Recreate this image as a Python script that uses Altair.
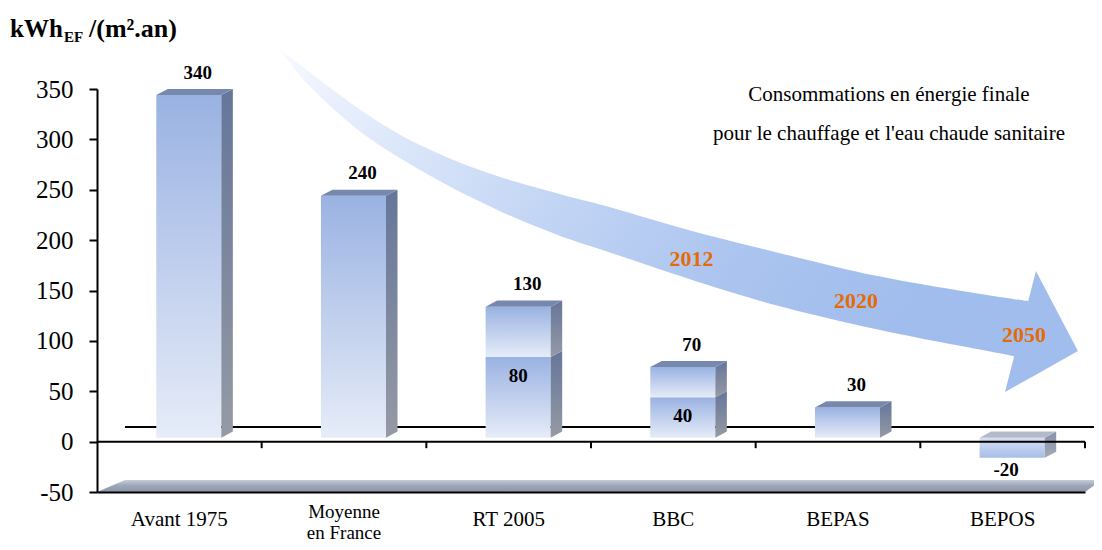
import altair as alt
import pandas as pd

# ---------------- data ----------------
categories = ["Avant 1975", "Moyenne\nen France", "RT 2005", "BBC", "BEPAS", "BEPOS"]
totals = [340, 240, 130, 70, 30, -20]
inner_values = [None, None, 80, 40, None, None]
y_ticks = [-50, 0, 50, 100, 150, 200, 250, 300, 350]

subtitle = "Consommations en énergie finale\npour le chauffage et l'eau chaude sanitaire"
year_labels = ["2012", "2020", "2050"]
year_x = [3.61, 4.61, 5.63]
year_y = [181, 140, 106]

# decorative arrow outline (in chart units: category index / kWh)
arrow_x = [1.111, 1.172, 1.251, 1.457, 1.658, 1.858, 2.065, 2.265, 2.466, 2.672,
           2.872, 3.055, 3.340, 3.741, 4.148, 4.555, 4.955, 5.484, 5.654]
arrow_top = [388.7, 381.7, 371.8, 346.0, 322.2, 302.3, 286.4, 272.5, 261.6, 251.7,
             242.8, 235.8, 221.9, 203.1, 187.2, 170.3, 157.4, 143.5, 139.5]
arrow_bottom = [388.7, 375.8, 358.9, 326.2, 299.4, 279.5, 259.6, 242.8, 226.9, 213.0,
                200.1, 191.2, 175.3, 153.4, 133.6, 117.7, 103.8, 87.9, 81.9]
head_x = [5.514, 5.702, 5.957]
head_top = [49.2, 169.3, 89.9]
head_bottom = [49.2, 66.5, 89.9]

# ---------------- geometry / style ----------------
W, H = 988, 403
BAR_LEFT, BAR_W = 0.36, 0.395
DX, DY = 0.07, 6.0          # 3D depth in chart units
LIFT = 4                    # px lift of bars above the zero line
FLOOR_DX, FLOOR_DY = 0.17, 11.9
BACK_Y = 14.5
TICK_LEN = 6.5
N = len(categories)
Y_MIN, Y_MAX = y_ticks[0], y_ticks[-1]
SERIF = "Liberation Serif, Times New Roman, serif"

front, side, top, labels_out, labels_in = [], [], [], [], []
for i, (cat, tot, inner) in enumerate(zip(categories, totals, inner_values)):
    xl = i + BAR_LEFT
    xr = xl + BAR_W
    neg = tot < 0
    if neg:
        bounds = [tot, 0]
    else:
        bounds = [0] + ([inner] if inner is not None else []) + [tot]
    for k in range(len(bounds) - 1):
        lo, hi = bounds[k], bounds[k + 1]
        seg = f"{i}-{k}"
        front.append(dict(seg=seg, xl=xl, xr=xr, lo=lo, hi=hi, neg=neg))
        side.append(dict(seg=seg, x=xr, lo=lo, hi=hi, neg=neg))
        side.append(dict(seg=seg, x=xr + DX, lo=lo + DY, hi=hi + DY, neg=neg))
    t = max(tot, 0)
    for x, lo, hi in [(xl, t, t), (xl + DX, t, t + DY), (xr, t, t + DY), (xr + DX, t + DY, t + DY)]:
        top.append(dict(bar=i, x=x, lo=lo, hi=hi, neg=neg))
    labels_out.append(dict(x=xl + BAR_W / 2, y=tot, txt=str(tot), neg=neg))
    if inner is not None:
        labels_in.append(dict(x=xl + BAR_W / 2, y=inner, txt=str(inner)))

front_df = pd.DataFrame(front)
side_df = pd.DataFrame(side)
top_df = pd.DataFrame(top)
lab_df = pd.DataFrame(labels_out)
lin_df = pd.DataFrame(labels_in)
cat_df = pd.DataFrame(dict(x=[i + 0.5 for i in range(N)], y=[Y_MIN] * N, txt=categories,
                           multi=["\n" in c for c in categories]))
arrow_df = pd.DataFrame(dict(x=arrow_x, top=arrow_top, bottom=arrow_bottom))
head_df = pd.DataFrame(dict(x=head_x, top=head_top, bottom=head_bottom))
year_df = pd.DataFrame(dict(x=year_x, y=year_y, txt=year_labels))
floor_df = pd.DataFrame(dict(
    x=[0, FLOOR_DX, N, N + FLOOR_DX * 0.6],
    lo=[Y_MIN, Y_MIN, Y_MIN, Y_MIN + FLOOR_DY],
    hi=[Y_MIN, Y_MIN + FLOOR_DY, Y_MIN + FLOOR_DY, Y_MIN + FLOOR_DY]))
back_df = pd.DataFrame(dict(x1=[FLOOR_DX], x2=[N + FLOOR_DX * 0.6], y=[BACK_Y]))
zero_df = pd.DataFrame(dict(x1=[0], x2=[N], y=[0]))
ticks_df = pd.DataFrame(dict(x=list(range(1, N + 1)), y=[0] * N, y2=[-TICK_LEN] * N))
note_df = pd.DataFrame(dict(t=[subtitle]))

xs = alt.Scale(domain=[0, N], nice=False, zero=False)
ys = alt.Scale(domain=[Y_MIN, Y_MAX], nice=False, zero=False)
xaxis = alt.Axis(title=None, labels=False, ticks=False, grid=False,
                 domainColor="black", domainWidth=2, zindex=1)
yaxis = alt.Axis(title=None, values=y_ticks, grid=False, domainColor="black", domainWidth=2,
                 tickColor="black", tickWidth=2, tickSize=8, labelFont=SERIF,
                 labelFontSize=25, labelColor="black", labelPadding=16,
                 labelExpr="'' + datum.value", zindex=1)


def X(f):
    return alt.X(f, type="quantitative", scale=xs, axis=xaxis)


def Y(f):
    return alt.Y(f, type="quantitative", scale=ys, axis=yaxis)


def vgrad(c0, c1, mid=None):
    stops = [alt.GradientStop(color=c0, offset=0)]
    if mid:
        stops.append(alt.GradientStop(color=mid, offset=0.5))
    stops.append(alt.GradientStop(color=c1, offset=1))
    return alt.LinearGradient(gradient="linear", stops=stops, x1=0, y1=0, x2=0, y2=1)


arrow_grad = alt.LinearGradient(
    gradient="linear", x1=0, y1=0, x2=1, y2=0.3,
    stops=[alt.GradientStop(color="#f6f9ff", offset=0),
           alt.GradientStop(color="#d9e5f9", offset=0.25),
           alt.GradientStop(color="#c0d3f4", offset=0.5),
           alt.GradientStop(color="#abc4ef", offset=0.75),
           alt.GradientStop(color="#a1bded", offset=1)])

arrow = alt.Chart(arrow_df).mark_area(color=arrow_grad, interpolate="basis").encode(
    x=X("x"), y=Y("top"), y2="bottom")
head = alt.Chart(head_df).mark_area(color="#a1bded").encode(x=X("x"), y=Y("top"), y2="bottom")

floor = alt.Chart(floor_df).mark_area(color=vgrad("#c6ccd7", "#8b97ac", "#9ba5b7")).encode(
    x=X("x"), y=Y("hi"), y2="lo")
back = alt.Chart(back_df).mark_rule(color="black", strokeWidth=2).encode(
    x=X("x1"), x2="x2", y=Y("y"))

front_pos = alt.Chart(front_df).transform_filter("!datum.neg").mark_rect(
    color=vgrad("#9ab2e2", "#e6ecf8"), yOffset=-LIFT, y2Offset=-LIFT).encode(
    x=X("xl"), x2="xr", y=Y("hi"), y2="lo")
front_neg = alt.Chart(front_df).transform_filter("datum.neg").mark_rect(
    color=vgrad("#d6e0f3", "#a7bee9"), yOffset=-LIFT, y2Offset=-LIFT).encode(
    x=X("xl"), x2="xr", y=Y("hi"), y2="lo")

side_pos = alt.Chart(side_df).transform_filter("!datum.neg").mark_area(
    color=vgrad("#65769a", "#959aa4"), yOffset=-LIFT, y2Offset=-LIFT).encode(
    x=X("x"), y=Y("hi"), y2="lo", detail="seg:N")
side_neg = alt.Chart(side_df).transform_filter("datum.neg").mark_area(
    color=vgrad("#8892a9", "#a2a8b5"), yOffset=-LIFT, y2Offset=-LIFT).encode(
    x=X("x"), y=Y("hi"), y2="lo", detail="seg:N")

top_pos = alt.Chart(top_df).transform_filter("!datum.neg").mark_area(
    color="#7788ae", yOffset=-LIFT, y2Offset=-LIFT).encode(
    x=X("x"), y=Y("hi"), y2="lo", detail="bar:N")
top_neg = alt.Chart(top_df).transform_filter("datum.neg").mark_area(
    color="#b3bbca", yOffset=-LIFT, y2Offset=-LIFT).encode(
    x=X("x"), y=Y("hi"), y2="lo", detail="bar:N")

zero = alt.Chart(zero_df).mark_rule(color="black", strokeWidth=2).encode(
    x=X("x1"), x2="x2", y=Y("y"))
ticks = alt.Chart(ticks_df).mark_rule(color="black", strokeWidth=2).encode(
    x=X("x"), y=Y("y"), y2="y2")

txt_kw = dict(font=SERIF, fontWeight="bold", fontSize=19, color="black",
              baseline="middle", align="center")
lab_pos = alt.Chart(lab_df).transform_filter("!datum.neg").mark_text(dx=9, dy=-26.5, **txt_kw).encode(
    x=X("x"), y=Y("y"), text="txt:N")
lab_neg = alt.Chart(lab_df).transform_filter("datum.neg").mark_text(dx=-6, dy=8, **txt_kw).encode(
    x=X("x"), y=Y("y"), text="txt:N")
lab_in = alt.Chart(lin_df).mark_text(dy=15, **txt_kw).encode(
    x=X("x"), y=Y("y"), text="txt:N")

cat_kw = dict(font=SERIF, color="black", align="center",
              baseline="alphabetic", lineBreak="\n")
cats1 = alt.Chart(cat_df).transform_filter("!datum.multi").mark_text(dy=34, fontSize=21, **cat_kw).encode(
    x=X("x"), y=Y("y"), text="txt:N")
cats2 = alt.Chart(cat_df).transform_filter("datum.multi").mark_text(
    dy=26, fontSize=19, lineHeight=21, **cat_kw).encode(
    x=X("x"), y=Y("y"), text="txt:N")

years = alt.Chart(year_df).mark_text(
    font=SERIF, fontWeight="bold", fontSize=22, color="#e36c09",
    align="center", baseline="middle").encode(x=X("x"), y=Y("y"), text="txt:N")

note = alt.Chart(note_df).mark_text(
    font=SERIF, fontSize=21, color="black", align="center",
    baseline="alphabetic", lineBreak="\n", lineHeight=39).encode(
    x=alt.value(792), y=alt.value(12), text="t:N")

t1 = alt.Chart(note_df).mark_text(font=SERIF, fontWeight="bold", fontSize=25,
                                  color="black", align="left", baseline="alphabetic").encode(
    x=alt.value(-87), y=alt.value(-52), text=alt.value("kWh"))
t2 = alt.Chart(note_df).mark_text(font=SERIF, fontWeight="bold", fontSize=15,
                                  color="black", align="left", baseline="alphabetic").encode(
    x=alt.value(-33), y=alt.value(-47), text=alt.value("EF"))
t3 = alt.Chart(note_df).mark_text(font=SERIF, fontWeight="bold", fontSize=26,
                                  color="black", align="left", baseline="alphabetic").encode(
    x=alt.value(-8), y=alt.value(-52), text=alt.value("/(m².an)"))

chart = alt.layer(
    arrow, head, floor, back,
    front_pos, front_neg, side_pos, side_neg, top_pos, top_neg,
    zero, ticks, lab_pos, lab_neg, lab_in, cats1, cats2, years, note, t1, t2, t3
).properties(
    width=W, height=H,
    autosize=alt.AutoSizeParams(type="none"),
    padding={"left": 89, "top": 81, "right": 9, "bottom": 50},
    background="white",
).configure_view(stroke=None)

chart.save("out.html", embed_options={"renderer": "svg", "actions": False})
